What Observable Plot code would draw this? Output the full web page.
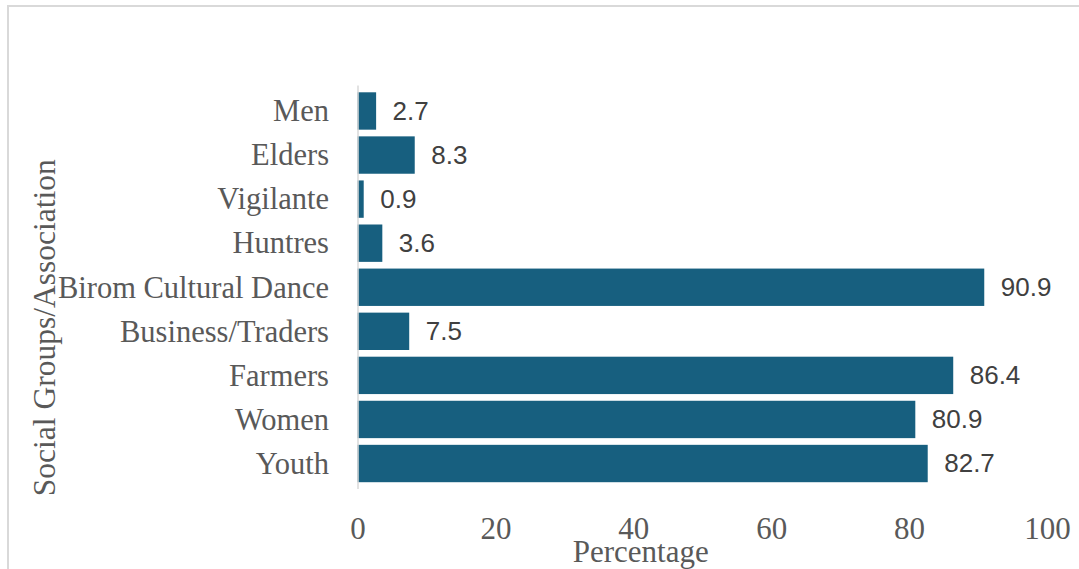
<!DOCTYPE html>
<html>
<head>
<meta charset="utf-8">
<script src="https://cdn.jsdelivr.net/npm/d3@7"></script>
<script src="https://cdn.jsdelivr.net/npm/@observablehq/plot@0.6"></script>
<style>
  html, body { margin: 0; padding: 0; background: #fff; }
  #wrap { position: relative; width: 1079px; height: 569px; overflow: hidden; }
  #frame { position: absolute; left: 7px; top: 5px; width: 1090px; height: 600px; border: 2px solid #d9d9d9; box-sizing: border-box; pointer-events: none; }
  #chart { position: absolute; left: 0; top: 0; }
</style>
</head>
<body>
<div id="wrap"><div id="chart"></div><div id="frame"></div></div>
<script>
const groups = ["Men", "Elders", "Vigilante", "Huntres", "Birom Cultural Dance", "Business/Traders", "Farmers", "Women", "Youth"];
const values = [2.7, 8.3, 0.9, 3.6, 90.9, 7.5, 86.4, 80.9, 82.7];
const xTicks = [0, 20, 40, 60, 80, 100];
const xLabel = "Percentage";
const yLabel = "Social Groups/Association";

const data = groups.map((g, i) => ({group: g, value: values[i]}));
const serif = "'Liberation Serif', 'Times New Roman', serif";
const sans = "'Liberation Sans', Arial, sans-serif";

const chart = Plot.plot({
  width: 1079,
  height: 569,
  marginLeft: 357.5,
  marginRight: 32,
  marginTop: 85.6,
  marginBottom: 80.1,
  style: {background: "transparent", overflow: "visible"},
  x: {domain: [0, 100], ticks: xTicks},
  y: {domain: groups, padding: 0.152, round: false},
  marks: [
    Plot.barX(data, {x: "value", y: "group", fill: "#175f7f"}),
    Plot.ruleX([0], {stroke: "#d9d9d9", strokeWidth: 1.5}),
    Plot.text(data, {x: "value", y: "group", text: d => d.value.toFixed(1), textAnchor: "start", dx: 16,
      fill: "#404040", fontSize: 26, fontFamily: sans}),
    Plot.axisX({ticks: xTicks, tickSize: 0, tickPadding: 27.5, fontSize: 31, fontFamily: serif, color: "#595959",
      label: null}),
    Plot.axisY({tickSize: 0, tickPadding: 29, fontSize: 30.5, fontFamily: serif, color: "#595959", label: null}),
    Plot.text([xLabel], {frameAnchor: "bottom", lineAnchor: "middle", dx: -62, dy: 62.5, fontSize: 31, fontFamily: serif, fill: "#595959", text: d => d}),
    Plot.text([yLabel], {frameAnchor: "left", textAnchor: "middle", lineAnchor: "middle", dx: -313, dy: 40, rotate: -90, fontSize: 31.5, fontFamily: serif, fill: "#595959", text: d => d})
  ]
});
document.getElementById("chart").appendChild(chart);
</script>
</body>
</html>
